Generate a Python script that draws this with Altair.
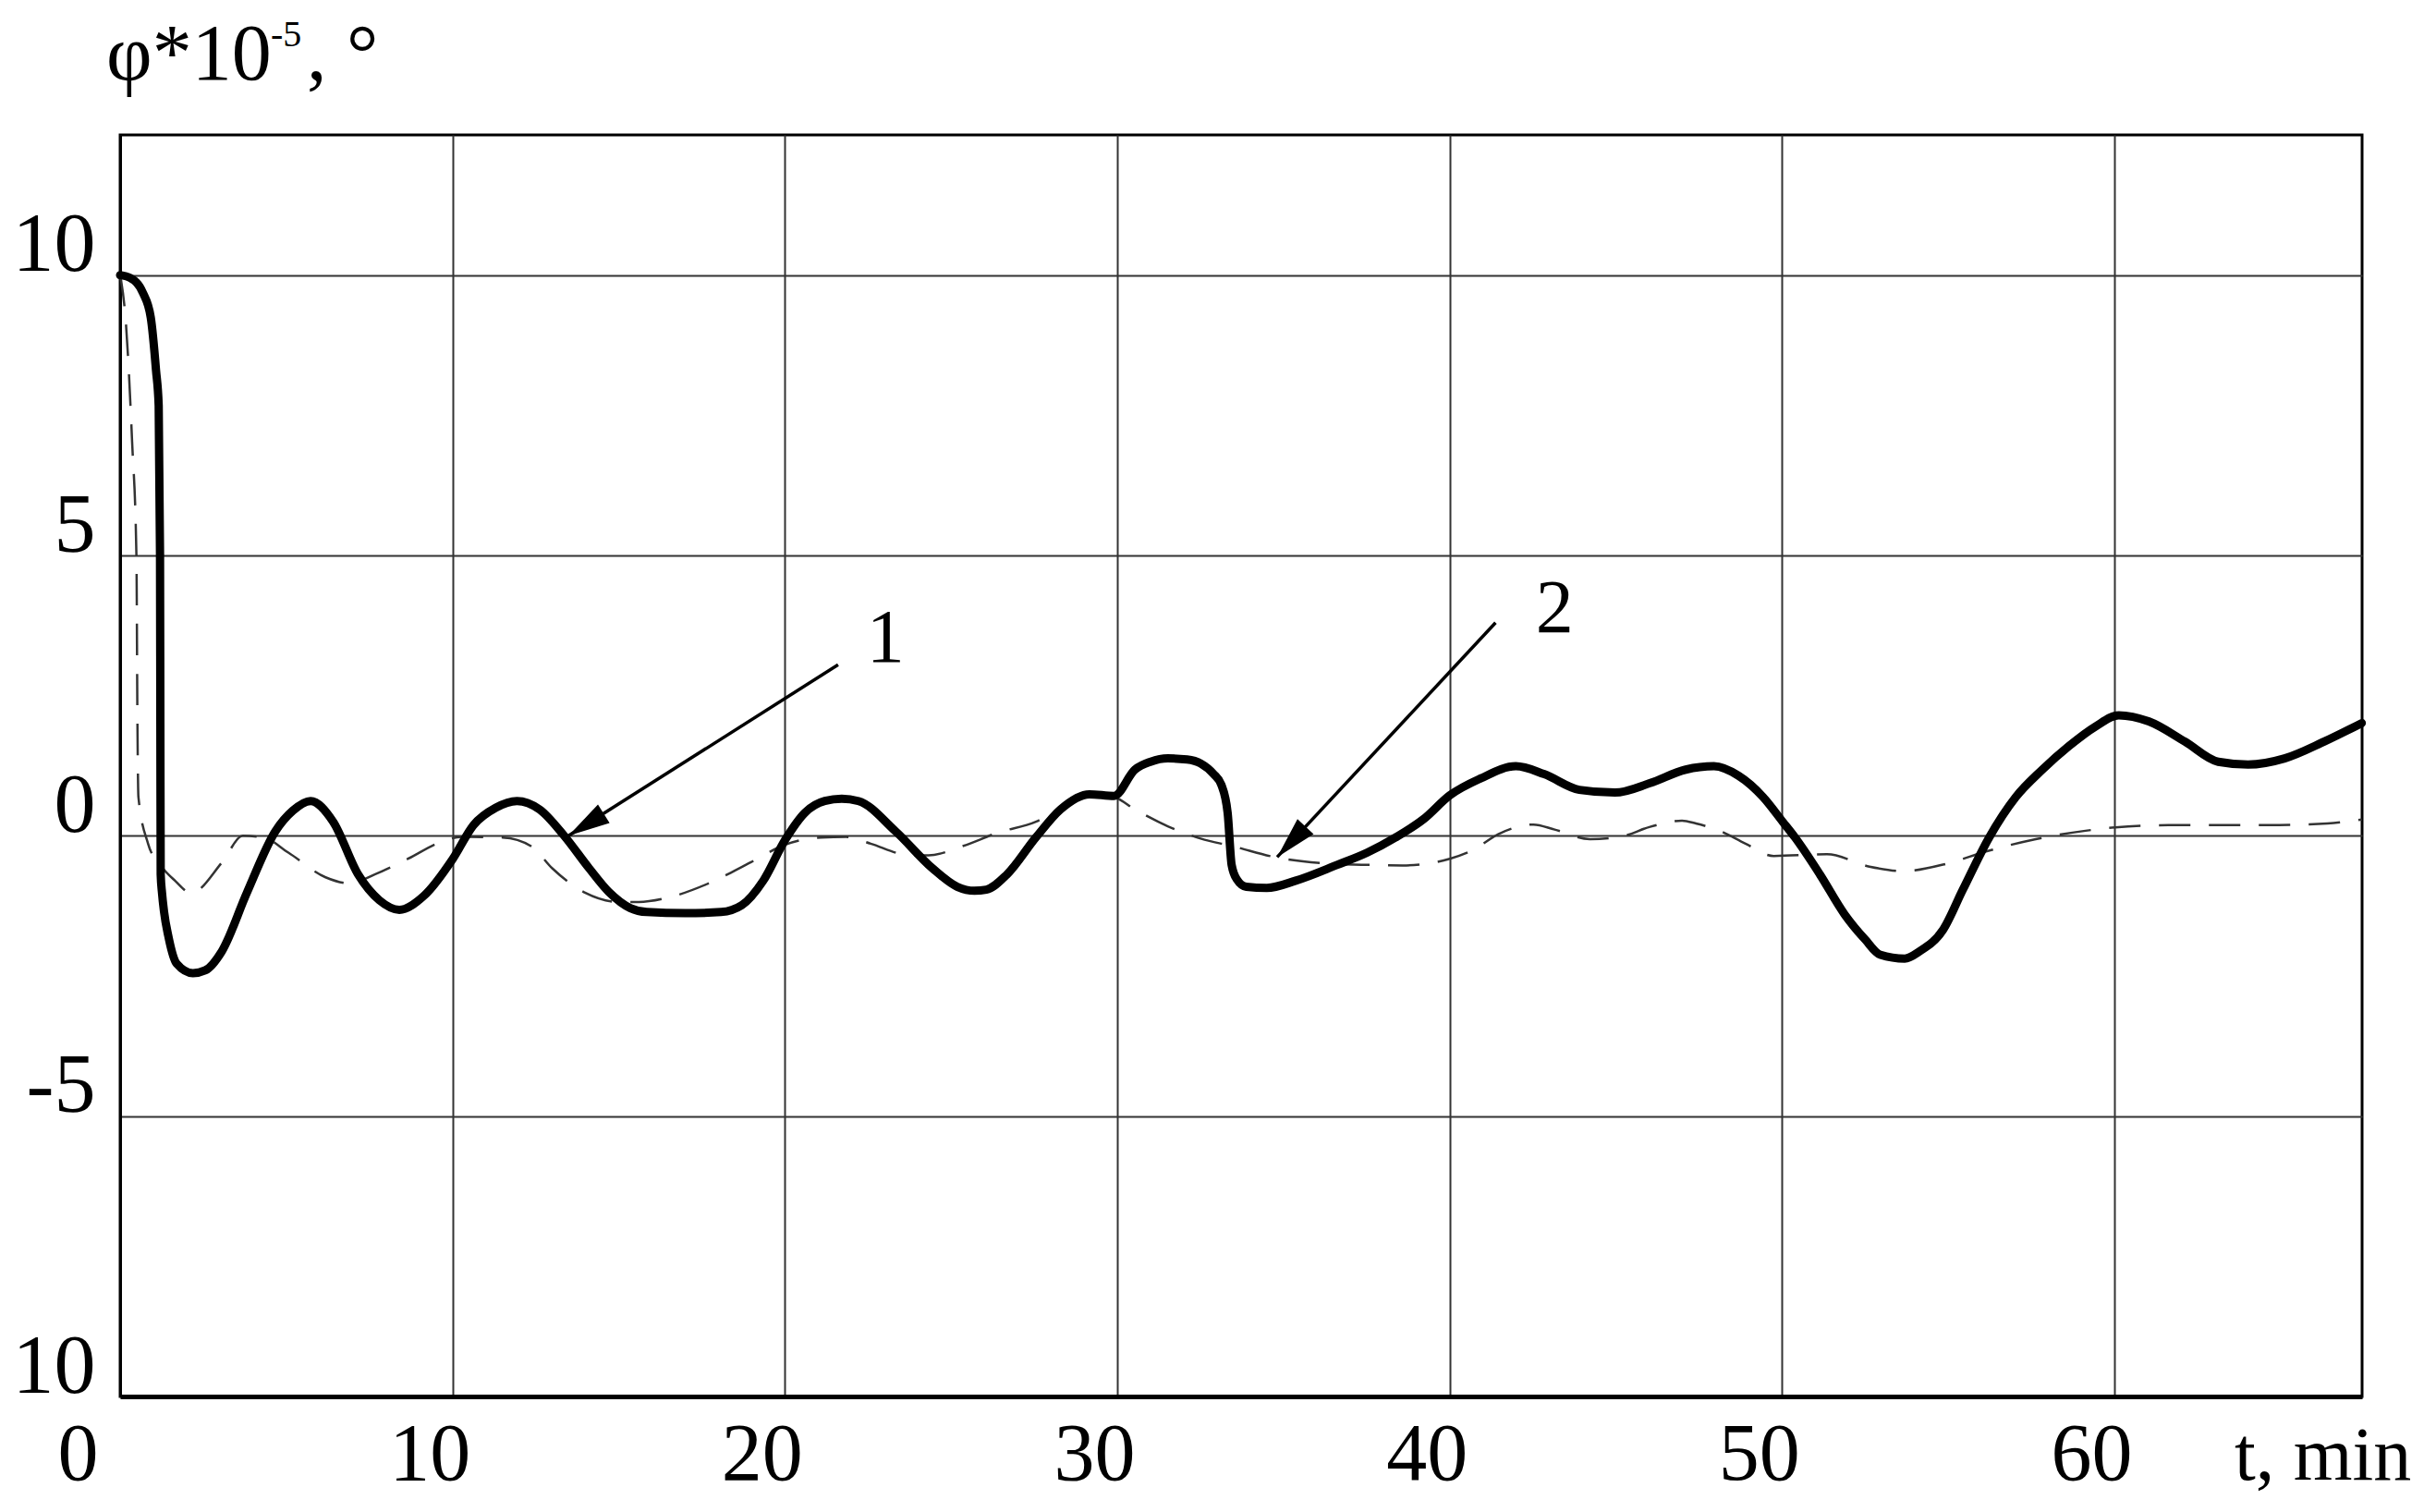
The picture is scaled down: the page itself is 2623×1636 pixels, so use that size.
import altair as alt
import pandas as pd

FONT = "Liberation Serif"

# Curve 1 (thick solid)
T1 = [0, 0.3, 0.68, 0.92, 1.08, 1.16, 1.2, 1.21, 1.22, 1.26, 1.32, 1.45, 1.7, 2.19, 2.56,
      3.06, 3.81, 4.67, 5.2, 5.73, 6.41, 7.16, 7.8, 8.4, 9.14, 10.01, 10.63, 11.3, 11.94,
      12.62, 13.36, 14.11, 14.7, 15.35, 15.84, 17.0, 18.08, 18.7, 19.35, 20.0, 20.6, 21.2,
      21.71, 22.21, 23.33, 24.44, 25.19, 25.7, 26.06, 26.68, 27.55, 28.29, 29.16, 29.9,
      30.53, 31.0, 31.52, 32.1, 32.51, 32.9, 33.13, 33.32, 33.44, 33.6, 33.88, 34.5, 35.37,
      36.61, 37.52, 38.37, 39.22, 40.0, 40.92, 41.99, 42.84, 43.9, 44.97, 46.03, 47.1,
      47.95, 48.69, 49.43, 50.02, 50.39, 51.14, 51.88, 52.5, 52.95, 53.69, 54.14, 54.84,
      55.44, 56.23, 57.03, 57.83, 58.63, 59.43, 60.13, 61.03, 62.12, 63.12, 64.02, 65.12,
      66.31, 67.44]
PHI1 = [10, 9.95, 9.69, 9.25, 8.3, 7.67, 5.0, 2.0, -0.69, -1.02, -1.35, -1.79, -2.28, -2.45,
        -2.4, -2.06, -1.02, 0.08, 0.45, 0.62, 0.25, -0.69, -1.15, -1.32, -1.07, -0.41, 0.19,
        0.5, 0.62, 0.47, 0.0, -0.58, -1.0, -1.29, -1.36, -1.38, -1.36, -1.24, -0.8, -0.08,
        0.41, 0.62, 0.66, 0.62, 0.08, -0.58, -0.91, -0.98, -0.96, -0.69, -0.03, 0.47, 0.74,
        0.71, 1.18, 1.32, 1.38, 1.36, 1.29, 1.1, 0.91, 0.41, -0.52, -0.78, -0.91, -0.93,
        -0.8, -0.52, -0.3, -0.03, 0.3, 0.72, 1.02, 1.24, 1.1, 0.82, 0.77, 0.94, 1.18, 1.24,
        1.07, 0.69, 0.25, -0.03, -0.69, -1.4, -1.85, -2.12, -2.19, -2.06, -1.68, -0.96,
        -0.03, 0.69, 1.18, 1.6, 1.95, 2.15, 2.04, 1.68, 1.32, 1.27, 1.38, 1.68, 2.01]

# Curve 2 (thin dashed)
T2 = [0, 0.03, 0.16, 0.36, 0.49, 0.52, 0.55, 0.84, 1.21, 1.65, 2.14, 3.07, 3.69, 4.31, 5.06,
      6.18, 6.92, 7.66, 8.66, 9.65, 10.27, 11.51, 12.38, 13.0, 14.0, 15.0, 15.6, 16.5, 17.7,
      18.98, 20.0, 21.09, 21.84, 22.58, 23.58, 24.32, 25.32, 26.43, 27.55, 28.54, 29.16,
      29.9, 30.53, 31.52, 32.51, 33.5, 34.74, 36.23, 37.6, 38.58, 40.0, 40.71, 41.46, 42.52,
      43.16, 44.22, 45.18, 46.03, 46.99, 47.41, 48.16, 48.9, 49.75, 51.35, 52.63, 53.64,
      54.94, 56.14, 57.63, 59.13, 60.03, 61.62, 64.62, 66.41, 67.44]
PHI2 = [10, 9.9, 9.25, 7.03, 5.0, 2.06, 0.69, -0.14, -0.52, -0.8, -1.02, -0.47, 0.0, -0.03,
        -0.3, -0.74, -0.85, -0.69, -0.41, -0.11, -0.02, -0.03, -0.19, -0.58, -1.02, -1.18,
        -1.18, -1.1, -0.85, -0.47, -0.16, -0.03, -0.02, -0.14, -0.33, -0.35, -0.19, 0.06,
        0.25, 0.58, 0.74, 0.69, 0.47, 0.17, -0.05, -0.19, -0.38, -0.49, -0.52, -0.53, -0.41,
        -0.25, 0.03, 0.2, 0.11, -0.06, -0.01, 0.16, 0.27, 0.22, 0.08, -0.14, -0.36, -0.33,
        -0.55, -0.63, -0.5, -0.28, -0.06, 0.09, 0.15, 0.19, 0.19, 0.22, 0.29]

X_TICKS = [0, 10, 20, 30, 40, 50, 60]
Y_TICKS = [-10, -5, 0, 5, 10]
X_DOMAIN = [0, 67.45]
Y_DOMAIN = [-10, 12.5]

# Arrows: tail -> head
ARROW_ID = ["1", "1", "2", "2"]
ARROW_T = [21.6, 13.49, 41.38, 34.81]
ARROW_PHI = [3.05, 0.0, 3.8, -0.38]
HEAD_T = [13.49, 34.81]
HEAD_PHI = [0.0, -0.38]
HEAD_ANGLE = [238, 223]

LABELS = ["1", "2"]
LABEL_T = [23.03, 43.16]
LABEL_PHI = [3.1, 3.63]

TITLE_MAIN = ["φ*10"]
TITLE_SUP = ["-5"]
TITLE_TAIL = [", °"]
X_UNIT = ["t, min"]

df1 = pd.DataFrame({"t": T1, "phi": PHI1})
df2 = pd.DataFrame({"t": T2, "phi": PHI2})
df_arrow = pd.DataFrame({"id": ARROW_ID, "t": ARROW_T, "phi": ARROW_PHI})
df_head = pd.DataFrame({"t": HEAD_T, "phi": HEAD_PHI, "ang": HEAD_ANGLE})
df_lab = pd.DataFrame({"t": LABEL_T, "phi": LABEL_PHI, "lab": LABELS})

xs = alt.Scale(domain=X_DOMAIN, nice=False, zero=False)
ys = alt.Scale(domain=Y_DOMAIN, nice=False, zero=False)

xaxis = alt.Axis(values=X_TICKS, title=None, grid=True, gridColor="#333333", gridWidth=2,
                 ticks=False, tickSize=0, domain=True, domainColor="black", domainWidth=5,
                 labelFont=FONT, labelFontSize=88, labelColor="black",
                 labelBaseline="alphabetic", labelPadding=89, labelFlush=False,
                 labelOverlap=False,
                 labelOffset={"condition": {"test": "datum.value == 0", "value": -46},
                              "value": -25})
yaxis = alt.Axis(values=Y_TICKS, title=None, grid=True, gridColor="#333333", gridWidth=2,
                 ticks=False, tickSize=0, domain=True, domainColor="black", domainWidth=3,
                 labelFont=FONT, labelFontSize=90, labelColor="black",
                 labelAlign="right", labelBaseline="alphabetic", labelPadding=27,
                 labelOffset=-5, labelFlush=False, labelOverlap=False,
                 labelExpr="datum.value == -10 ? '10' : toString(datum.value)")

X = alt.X("t:Q", scale=xs, axis=xaxis)
Y = alt.Y("phi:Q", scale=ys, axis=yaxis)

dashed = alt.Chart(df2).mark_line(color="#333333", strokeWidth=2.5, strokeDash=[34, 20],
                                  interpolate="monotone").encode(x=X, y=Y)
solid = alt.Chart(df1).mark_line(color="black", strokeWidth=9, interpolate="monotone",
                                 strokeJoin="round", strokeCap="round").encode(x=X, y=Y)
arrows = alt.Chart(df_arrow).mark_line(color="black", strokeWidth=3.5).encode(
    x=X, y=Y, detail="id:N")
heads = alt.Chart(df_head).mark_point(shape="M0,0L-0.45,1.7L0.45,1.7Z", filled=True,
                                      color="black", opacity=1, size=2800).encode(
    x=X, y=Y, angle=alt.Angle("ang:Q", scale=None))
labels = alt.Chart(df_lab).mark_text(font=FONT, fontSize=82, align="center",
                                     baseline="alphabetic", color="black").encode(
    x=X, y=Y, text="lab:N")

t_main = alt.Chart(pd.DataFrame({"s": TITLE_MAIN})).mark_text(
    font=FONT, fontSize=86, align="left", baseline="alphabetic", color="black").encode(
    x=alt.value(-15), y=alt.value(-60), text="s:N")
t_sup = alt.Chart(pd.DataFrame({"s": TITLE_SUP})).mark_text(
    font=FONT, fontSize=40, align="left", baseline="alphabetic", color="black").encode(
    x=alt.value(163), y=alt.value(-96), text="s:N")
t_tail = alt.Chart(pd.DataFrame({"s": TITLE_TAIL})).mark_text(
    font=FONT, fontSize=86, align="left", baseline="alphabetic", color="black").encode(
    x=alt.value(202), y=alt.value(-60), text="s:N")
t_unit = alt.Chart(pd.DataFrame({"s": X_UNIT})).mark_text(
    font=FONT, fontSize=82, align="left", baseline="alphabetic", color="black").encode(
    x=alt.value(2288), y=alt.value(1455), text="s:N")

chart = alt.layer(dashed, solid, arrows, heads, labels, t_main, t_sup, t_tail, t_unit).properties(
    width=2426, height=1365,
    autosize=alt.AutoSizeParams(type="none"),
    padding={"left": 122, "top": 138, "right": 59, "bottom": 111},
    background="white",
).configure_view(stroke="black", strokeWidth=3)

chart.save("out.html", embed_options={"renderer": "svg", "actions": False})
